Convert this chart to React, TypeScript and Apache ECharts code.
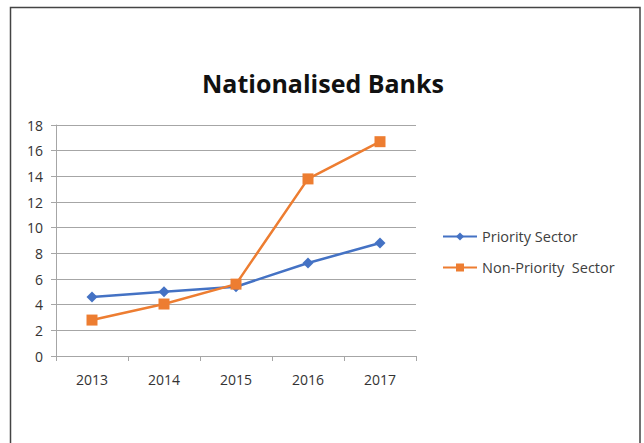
import React, { useEffect, useRef } from "react";
import * as echarts from "echarts";

const years = ["2013", "2014", "2015", "2016", "2017"];
const prioritySector = [4.6, 5.0, 5.4, 7.25, 8.8];
const nonPrioritySector = [2.8, 4.05, 5.6, 13.8, 16.7];
const yTicks = { min: 0, max: 18, interval: 2 };

export default function App() {
  const ref = useRef<HTMLDivElement>(null);
  useEffect(() => {
    const chart = echarts.init(ref.current!, null, { renderer: "svg" });
    const font = "'Open Sans', 'DejaVu Sans', sans-serif";
    chart.setOption({
      animation: false,
      backgroundColor: "#ffffff",
      title: {
        text: "Nationalised Banks",
        left: 318,
        textAlign: "center",
        top: 65,
        textStyle: { fontFamily: font, fontSize: 25, fontWeight: "bold", color: "#111" },
      },
      graphic: [
        {
          type: "rect",
          shape: { x: 10.5, y: 7.5, width: 629.5, height: 460 },
          style: { fill: "none", stroke: "#444", lineWidth: 1.5 },
          silent: true,
        },
      ],
      legend: {
        orient: "vertical",
        left: 437,
        top: 224,
        itemGap: 16,
        itemWidth: 34,
        itemHeight: 10,
        textStyle: { fontFamily: font, fontSize: 14.5, color: "#404040" },
        data: ["Priority Sector", "Non-Priority  Sector"],
      },
      grid: { left: 56, right: 228, top: 125, bottom: 87, containLabel: false },
      xAxis: {
        type: "category",
        data: years,
        boundaryGap: true,
        axisLine: { lineStyle: { color: "#a6a6a6", width: 1 } },
        axisTick: { show: true, length: 5, lineStyle: { color: "#a6a6a6" } },
        axisLabel: { fontFamily: font, fontSize: 14, color: "#333", margin: 16 },
      },
      yAxis: {
        type: "value",
        min: yTicks.min,
        max: yTicks.max,
        interval: yTicks.interval,
        axisLine: { show: true, lineStyle: { color: "#a6a6a6", width: 1 } },
        axisTick: { show: true, length: 5, lineStyle: { color: "#a6a6a6" } },
        splitLine: { lineStyle: { color: "#a6a6a6", width: 1 } },
        axisLabel: { fontFamily: font, fontSize: 14, color: "#333", margin: 13 },
      },
      series: [
        {
          name: "Priority Sector",
          type: "line",
          data: prioritySector,
          symbol: "diamond",
          symbolSize: 11,
          itemStyle: { color: "#4472C4" },
          lineStyle: { color: "#4472C4", width: 2.5 },
        },
        {
          name: "Non-Priority  Sector",
          type: "line",
          data: nonPrioritySector,
          symbol: "rect",
          symbolSize: 11,
          itemStyle: { color: "#ED7D31" },
          lineStyle: { color: "#ED7D31", width: 2.5 },
        },
      ],
    });
    return () => chart.dispose();
  }, []);
  return (
    <div
      ref={ref}
      style={{ position: "fixed", left: 0, top: 0, width: 644, height: 443 }}
    />
  );
}
